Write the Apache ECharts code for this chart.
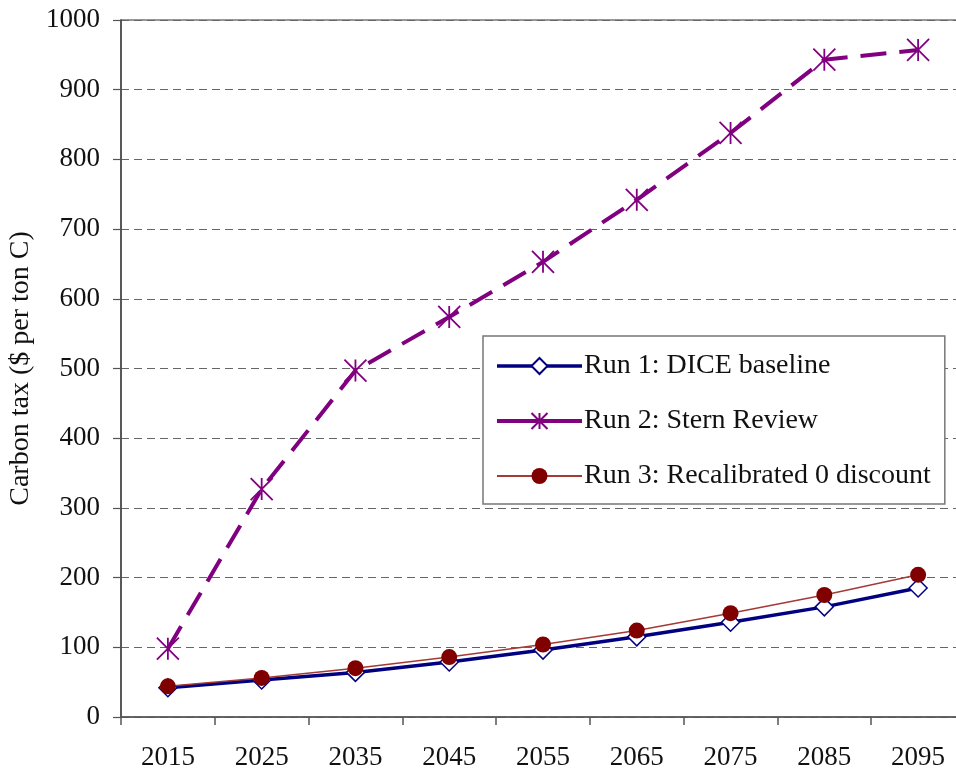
<!DOCTYPE html>
<html>
<head>
<meta charset="utf-8">
<script src="https://cdn.jsdelivr.net/npm/echarts@6/dist/echarts.min.js"></script>
<style>
  html, body { margin: 0; padding: 0; background: #fff; }
  #chart { width: 956px; height: 772px; }
</style>
</head>
<body>
<div id="chart"></div>
<script>
// values
const years = ['2015', '2025', '2035', '2045', '2055', '2065', '2075', '2085', '2095'];
const diceBaseline = [42, 53, 64, 79, 96, 115, 136, 158, 185];
const sternReview = [98, 327, 497, 574, 653, 742, 838, 943, 957];
const recalibrated = [44, 56, 70, 86, 104, 124, 149, 175, 204];

const serif = '"Liberation Serif", "DejaVu Serif", serif';
const asterisk = 'path://M0,0L20,20M20,0L0,20M10,0L10,20';

const chart = echarts.init(document.getElementById('chart'));

chart.setOption({
  animation: false,
  textStyle: { fontFamily: serif, color: '#111' },
  grid: {
    left: 121,
    top: 20,
    right: -9,
    bottom: 55,
    containLabel: false,
    outerBoundsMode: 'none',
    show: true,
    borderColor: '#777',
    borderWidth: 1.5
  },
  legend: {
    orient: 'vertical',
    left: 483,
    top: 336,
    padding: [16, 14, 14, 12],
    itemWidth: 85,
    itemHeight: 20,
    itemGap: 27,
    backgroundColor: '#fff',
    borderColor: '#777',
    borderWidth: 1.5,
    borderRadius: 0,
    textStyle: { fontFamily: serif, fontSize: 28, color: '#111', padding: [0, 0, 0, -3] },
    data: [
      { name: 'Run 1: DICE baseline', lineStyle: { width: 3.5 } },
      { name: 'Run 2: Stern Review', lineStyle: { type: 'solid', width: 4 } },
      { name: 'Run 3: Recalibrated 0 discount', lineStyle: { width: 2 } }
    ]
  },
  xAxis: {
    type: 'category',
    data: years,
    boundaryGap: true,
    axisLine: { lineStyle: { color: '#555', width: 1.5 } },
    axisTick: { show: true, length: 8, lineStyle: { color: '#555', width: 1.5 } },
    axisLabel: { fontFamily: serif, fontSize: 27, color: '#111', margin: 27 },
    splitLine: { show: false }
  },
  yAxis: {
    type: 'value',
    min: 0,
    max: 1000,
    interval: 100,
    name: 'Carbon tax ($ per ton C)',
    nameLocation: 'middle',
    nameGap: 67,
    nameTextStyle: { fontFamily: serif, fontSize: 28, color: '#111' },
    axisLine: { show: true, lineStyle: { color: '#444', width: 1.5 } },
    axisTick: { show: true, length: 8, lineStyle: { color: '#555', width: 1.2 } },
    axisLabel: {
      fontFamily: serif,
      fontSize: 27,
      color: '#111',
      margin: 21,
      formatter: v => String(v)
    },
    splitLine: {
      show: true,
      lineStyle: { color: '#666', width: 1.2, type: [8, 5] }
    }
  },
  series: [
    {
      name: 'Run 1: DICE baseline',
      type: 'line',
      data: diceBaseline,
      symbol: 'diamond',
      symbolSize: 18,
      showSymbol: true,
      lineStyle: { color: '#000080', width: 3.5 },
      itemStyle: { color: '#fff', borderColor: '#000080', borderWidth: 1.5 },
      z: 3
    },
    {
      name: 'Run 2: Stern Review',
      type: 'line',
      data: sternReview,
      symbol: asterisk,
      symbolSize: 22,
      showSymbol: true,
      lineStyle: { color: '#800080', width: 4, type: [26, 13] },
      itemStyle: { color: 'rgba(0,0,0,0)', borderColor: '#800080', borderWidth: 1.8 },
      z: 4
    },
    {
      name: 'Run 3: Recalibrated 0 discount',
      type: 'line',
      data: recalibrated,
      symbol: 'circle',
      symbolSize: 16,
      showSymbol: true,
      lineStyle: { color: '#a33a36', width: 1.5 },
      itemStyle: { color: '#800000', borderWidth: 0 },
      z: 5
    }
  ]
});
</script>
</body>
</html>
